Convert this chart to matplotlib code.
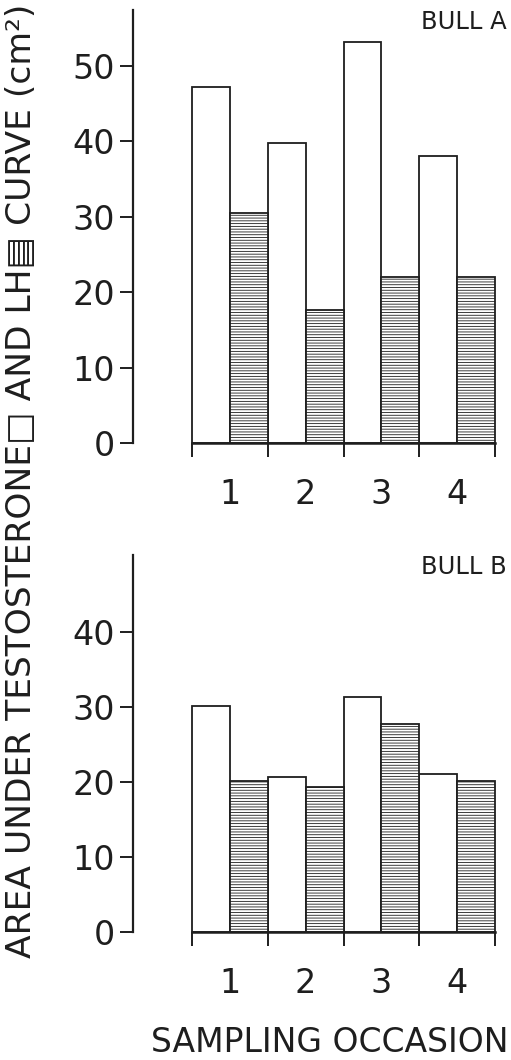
import numpy as np
import matplotlib
matplotlib.use("Agg")
import matplotlib.pyplot as plt

# ── Data ─────────────────────────────────────────────────────────────────────
occasions = ["1", "2", "3", "4"]
testo_a = [47.2, 39.7, 53.1, 38.0]
lh_a    = [30.5, 17.6, 22.0, 22.0]
testo_b = [30.1, 20.7, 31.3, 21.1]
lh_b    = [20.1, 19.3, 27.7, 20.1]

plt.rcParams['font.family'] = ['DejaVu Sans']
plt.rcParams['hatch.color'] = '#333333'
plt.rcParams['hatch.linewidth'] = 0.6

INK = '#1e1e1e'
W, H = 511, 1060
fig = plt.figure(figsize=(W/100, H/100), dpi=100)

x = np.arange(len(occasions))
px_per_x = 75.75
x_lo = -0.5 - (192 - 133) / px_per_x
x_hi = 3.5 + (511 - 495) / px_per_x


def panel(top_px, zero_px, px_per_unit, testo, lh, yticks, title):
    ax = fig.add_axes([133 / W, 1 - zero_px / H, (W - 133) / W, (zero_px - top_px) / H])
    ax.bar(x - 0.25, testo, 0.5, facecolor='white', edgecolor=INK, linewidth=1.3)
    ax.bar(x + 0.25, lh, 0.5, facecolor='white', edgecolor=INK, linewidth=1.3,
           hatch='------')
    ax.set_xlim(x_lo, x_hi)
    ax.set_ylim(0, (zero_px - top_px) / px_per_unit)
    for s in ('top', 'right'):
        ax.spines[s].set_visible(False)
    ax.spines['left'].set_linewidth(1.6)
    ax.spines['left'].set_color(INK)
    ax.spines['bottom'].set_linewidth(1.8)
    ax.spines['bottom'].set_color(INK)
    ax.spines['bottom'].set_bounds(-0.5, 3.5)

    ax.set_yticks(yticks)
    ax.tick_params(axis='y', length=9.5, width=1.4, pad=3.5, labelsize=24,
                   color=INK, labelcolor=INK)
    ax.set_xticks(np.arange(-0.5, 4.0, 1.0))
    ax.set_xticklabels([])
    ax.tick_params(axis='x', which='major', length=10, width=1.4, color=INK)
    ax.set_xticks(x, minor=True)
    ax.set_xticklabels(occasions, minor=True)
    ax.tick_params(axis='x', which='minor', length=0, pad=25, labelsize=24,
                   labelcolor=INK)
    ax.patch.set_visible(False)
    fig.text(507 / W, 1 - (top_px + 12) / H, title, ha='right', va='center',
             fontsize=17.5, color=INK)
    return ax


panel(10, 443, 7.55, testo_a, lh_a, [0, 10, 20, 30, 40, 50], "BULL A")
panel(555, 932, 7.5, testo_b, lh_b, [0, 10, 20, 30, 40], "BULL B")

fig.text(22 / W, 1 - 481 / H,
         "AREA UNDER TESTOSTERONE\u25A1 AND LH\u25A4 CURVE (cm\u00B2)",
         rotation=90, ha='center', va='center', fontsize=24.8, color=INK)
fig.text(330 / W, 1 - 1043 / H, "SAMPLING OCCASION", ha='center', va='center',
         fontsize=23.8, color=INK)

fig.savefig("out.png", dpi=100, facecolor='white')
